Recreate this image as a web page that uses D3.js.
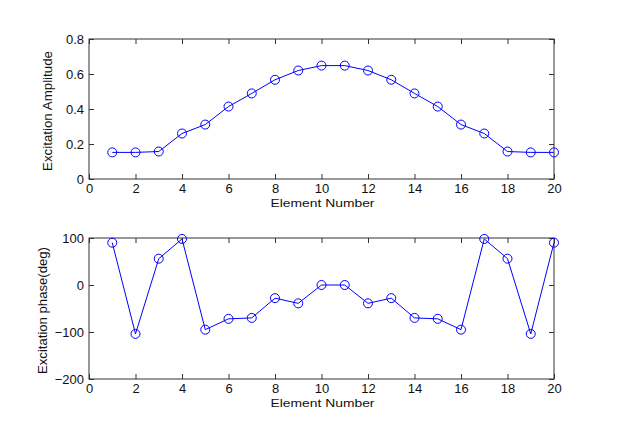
<!DOCTYPE html>
<html>
<head>
<meta charset="utf-8">
<script src="https://cdn.jsdelivr.net/npm/d3@7"></script>
<style>
  body { margin: 0; background: #fff; }
  svg { display: block; font-family: "Liberation Sans", Arial, sans-serif; }
</style>
</head>
<body>
<svg></svg>
<script>
const svgWidth = 632;
const svgHeight = 424;

const elements = d3.range(1, 21);
const amplitude = [0.152, 0.152, 0.157, 0.26, 0.311, 0.414, 0.489, 0.567, 0.62, 0.648,
                   0.648, 0.62, 0.567, 0.489, 0.414, 0.311, 0.26, 0.157, 0.152, 0.152];
const phase = [90, -104, 56, 98, -95, -72, -70, -28, -39, 0,
               0, -39, -28, -70, -72, -95, 98, 56, -104, 90];
const xTicks = [0, 2, 4, 6, 8, 10, 12, 14, 16, 18, 20];
const ampTicks = [0, 0.2, 0.4, 0.6, 0.8];
const phaseTicks = [-200, -100, 0, 100];

const svg = d3.select("svg")
        .attr("width", svgWidth)
        .attr("height", svgHeight);

svg.append("rect").attr("width", svgWidth).attr("height", svgHeight).attr("fill", "#fff");

function drawPanel (opt) {
	let left = 89, right = 554;
	let xScale = d3.scaleLinear().domain([0, 20]).range([left, right]);
	let yScale = d3.scaleLinear().domain(opt.yDomain).range([opt.bottom, opt.top]);

	let g = svg.append("g");

	g.append("rect")
		.attr("x", left)
		.attr("y", opt.top)
		.attr("width", right - left)
		.attr("height", opt.bottom - opt.top)
		.attr("fill", "none")
		.attr("stroke", "#333")
		.attr("stroke-width", 1);

	let styleAxis = sel => {
		sel.select(".domain").remove();
		sel.selectAll("line").attr("stroke", "#333");
		sel.selectAll("text").attr("fill", "#111").attr("font-size", "13px");
	};

	g.append("g")
		.attr("transform", `translate(0, ${opt.bottom})`)
		.call(d3.axisBottom(xScale).tickValues(xTicks).tickSize(-5).tickPadding(5).tickFormat(d3.format("d")))
		.call(styleAxis);
	g.append("g")
		.attr("transform", `translate(0, ${opt.top})`)
		.call(d3.axisTop(xScale).tickValues(xTicks).tickSize(-5).tickFormat(""))
		.call(styleAxis);
	g.append("g")
		.attr("transform", `translate(${left}, 0)`)
		.call(d3.axisLeft(yScale).tickValues(opt.yTicks).tickSize(-5).tickPadding(5).tickFormat(opt.fmt))
		.call(styleAxis);
	g.append("g")
		.attr("transform", `translate(${right}, 0)`)
		.call(d3.axisRight(yScale).tickValues(opt.yTicks).tickSize(-5).tickFormat(""))
		.call(styleAxis);

	// x label
	g.append("text")
		.text("Element Number")
		.attr("x", (left + right) / 2 + 1)
		.attr("y", opt.bottom + 28)
		.attr("font-size", "11px")
		.attr("text-anchor", "middle")
		.attr("textLength", 104)
		.attr("lengthAdjust", "spacingAndGlyphs")
		.attr("fill", "#111");

	// y label
	g.append("text")
		.text(opt.yLabel)
		.attr("transform", `translate(${opt.yLabelX}, ${(opt.top + opt.bottom) / 2 + 2}) rotate(-90)`)
		.attr("font-size", "12px")
		.attr("text-anchor", "middle")
		.attr("textLength", opt.yLabelLen)
		.attr("lengthAdjust", "spacingAndGlyphs")
		.attr("fill", "#111");

	let line = d3.line()
		.x((d, i) => xScale(elements[i]))
		.y(d => yScale(d));

	g.append("path")
		.datum(opt.values)
		.attr("d", line)
		.attr("fill", "none")
		.attr("stroke", "#0000ff")
		.attr("stroke-width", 1);

	g.selectAll("circle")
		.data(opt.values)
		.enter()
		.append("circle")
		.attr("cx", (d, i) => xScale(elements[i]))
		.attr("cy", d => yScale(d))
		.attr("r", 4.5)
		.attr("fill", "none")
		.attr("stroke", "#0000ff")
		.attr("stroke-width", 1);
}

drawPanel({
	top: 39, bottom: 179,
	yDomain: [0, 0.8], yTicks: ampTicks, fmt: d => d === 0 ? "0" : d3.format(".1f")(d),
	values: amplitude,
	yLabel: "Excitation Amplitude", yLabelX: 52, yLabelLen: 120
});

drawPanel({
	top: 238, bottom: 379,
	yDomain: [-200, 100], yTicks: phaseTicks, fmt: d3.format("d"),
	values: phase,
	yLabel: "Excitation phase(deg)", yLabelX: 47, yLabelLen: 127
});
</script>
</body>
</html>
